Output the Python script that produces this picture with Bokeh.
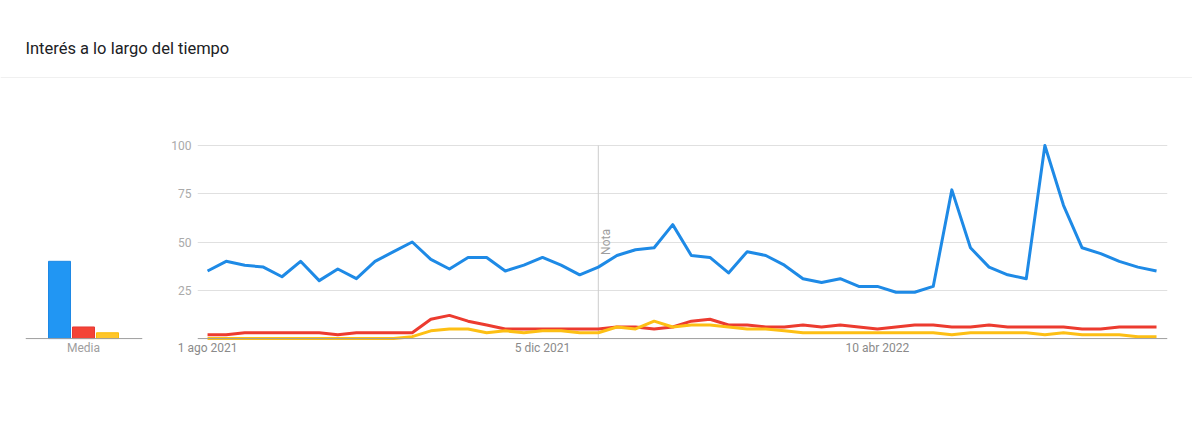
import math
from bokeh.plotting import figure
from bokeh.layouts import column, row
from bokeh.models import Range1d, FixedTicker, Span, Label
from bokeh.embed import file_html
from bokeh.resources import INLINE

# ---------------- data ----------------
title_text = "Interés a lo largo del tiempo"
weeks = list(range(52))  # weekly points, 1 ago 2021 .. 24 jul 2022
blue = [35, 40, 38, 37, 32, 40, 30, 36, 31, 40, 45, 50,
        41, 36, 42, 42, 35, 38, 42, 38, 33, 37, 43, 46,
        47, 59, 43, 42, 34, 45, 43, 38, 31, 29, 31, 27, 27, 24,
        24, 27, 77, 47, 37, 33, 31, 100, 69, 47, 44, 40, 37, 35]
red = [2, 2, 3, 3, 3, 3, 3, 2, 3, 3, 3, 3,
       10, 12, 9, 7, 5, 5, 5, 5, 5, 5, 6, 6,
       5, 6, 9, 10, 7, 7, 6, 6, 7, 6, 7, 6, 5, 6,
       7, 7, 6, 6, 7, 6, 6, 6, 6, 5, 5, 6, 6, 6]
yellow = [0, 0, 0, 0, 0, 0, 0, 0, 0, 0, 0, 1,
          4, 5, 5, 3, 4, 3, 4, 4, 3, 3, 6, 5,
          9, 6, 7, 7, 6, 5, 5, 4, 3, 3, 3, 3, 3, 3,
          3, 3, 2, 3, 3, 3, 3, 2, 3, 2, 2, 2, 1, 1]
media_label = "Media"
media = [40, 6, 3]
x_tick_weeks = [0, 18, 36]
x_tick_labels = ["1 ago 2021", "5 dic 2021", "10 abr 2022"]
y_ticks = [25, 50, 75, 100]
nota_week = 21
nota_text = "Nota"

# ---------------- style ----------------
FONT = "Roboto"
line_colors = ["#1e8ae6", "#ec3b2f", "#fdbf14"]
bar_fills = ["#2196f3", "#f44336", "#ffc629"]
bar_lines = ["#1e88e5", "#e53935", "#fbbc04"]
GRID = "#e0e0e0"
BASE = "#9e9e9e"

TOTAL_W = 1192
HEAD_H = 78
ROW_H = 359
FRAME_TOP = 65
FRAME_BOTTOM = 97
Y_RANGE = (-1, 101)


def style_x_axis(fig, color):
    fig.xaxis.axis_line_color = None
    fig.xaxis.major_tick_line_color = None
    fig.xaxis.minor_tick_line_color = None
    fig.xaxis.major_tick_out = 0
    fig.xaxis.major_tick_in = 0
    fig.xaxis.major_label_text_font = FONT
    fig.xaxis.major_label_text_font_size = "12px"
    fig.xaxis.major_label_text_color = color
    fig.xaxis.major_label_standoff = 0


# ---------------- header ----------------
header = figure(width=TOTAL_W, height=HEAD_H, x_range=Range1d(0, TOTAL_W), y_range=Range1d(0, HEAD_H),
                toolbar_location=None, output_backend="svg", min_border=0,
                x_axis_location=None, y_axis_location=None, outline_line_color=None)
header.grid.visible = False
header.add_layout(Label(x=25, y=30.5, text=title_text, text_font=FONT, text_font_size="16.5px",
                        text_color="#202124", text_baseline="alphabetic"))
header.add_layout(Span(location=0.5, dimension="width", line_color=GRID, line_width=1))

# ---------------- average bars ----------------
bar = figure(width=158, height=ROW_H, x_range=Range1d(-1.417, 3.458), y_range=Range1d(*Y_RANGE),
             toolbar_location=None, output_backend="svg",
             min_border_left=25, min_border_right=16, min_border_top=FRAME_TOP,
             min_border_bottom=FRAME_BOTTOM, y_axis_location=None, outline_line_color=None)
bar.grid.visible = False
bar.vbar(x=list(range(len(media))), top=media, bottom=0, width=0.917,
         fill_color=bar_fills, line_color=bar_lines, line_width=1)
bar.add_layout(Span(location=0, dimension="width", line_color=BASE, line_width=1))
bar.xaxis.ticker = FixedTicker(ticks=[1])
bar.xaxis.major_label_overrides = {1: media_label}
style_x_axis(bar, "#9e9e9e")

# ---------------- line chart ----------------
p = figure(width=1034, height=ROW_H, x_range=Range1d(-0.54, 51.59), y_range=Range1d(*Y_RANGE),
           toolbar_location=None, output_backend="svg",
           min_border_left=39, min_border_right=25, min_border_top=FRAME_TOP,
           min_border_bottom=FRAME_BOTTOM, outline_line_color=None)
p.xgrid.visible = False
p.ygrid.ticker = FixedTicker(ticks=y_ticks)
p.ygrid.grid_line_color = GRID
p.ygrid.grid_line_width = 1

p.yaxis.ticker = FixedTicker(ticks=y_ticks)
p.yaxis.axis_line_color = None
p.yaxis.major_tick_line_color = None
p.yaxis.minor_tick_line_color = None
p.yaxis.major_tick_out = 0
p.yaxis.major_tick_in = 0
p.yaxis.major_label_text_font = FONT
p.yaxis.major_label_text_font_size = "12px"
p.yaxis.major_label_text_color = "#aaaaaa"
p.yaxis.major_label_standoff = 6

p.xaxis.ticker = FixedTicker(ticks=x_tick_weeks)
p.xaxis.major_label_overrides = dict(zip(x_tick_weeks, x_tick_labels))
style_x_axis(p, "#8a8a8a")

p.add_layout(Span(location=0, dimension="width", line_color=BASE, line_width=1))
p.segment(x0=[nota_week], y0=[0], x1=[nota_week], y1=[y_ticks[-1]], line_color="#cccccc", line_width=1)
p.add_layout(Label(x=nota_week, y=y_ticks[1], text=nota_text, angle=math.pi / 2, x_offset=1,
                   text_align="center", text_baseline="top", text_font=FONT,
                   text_font_size="12px", text_color="#9e9e9e"))

for series, c in zip([blue, red, yellow], line_colors):
    p.line(weeks, series, line_color=c, line_width=3, line_join="round")

layout = column(header, row(bar, p))
open("out.html", "w").write(file_html(layout, INLINE))
